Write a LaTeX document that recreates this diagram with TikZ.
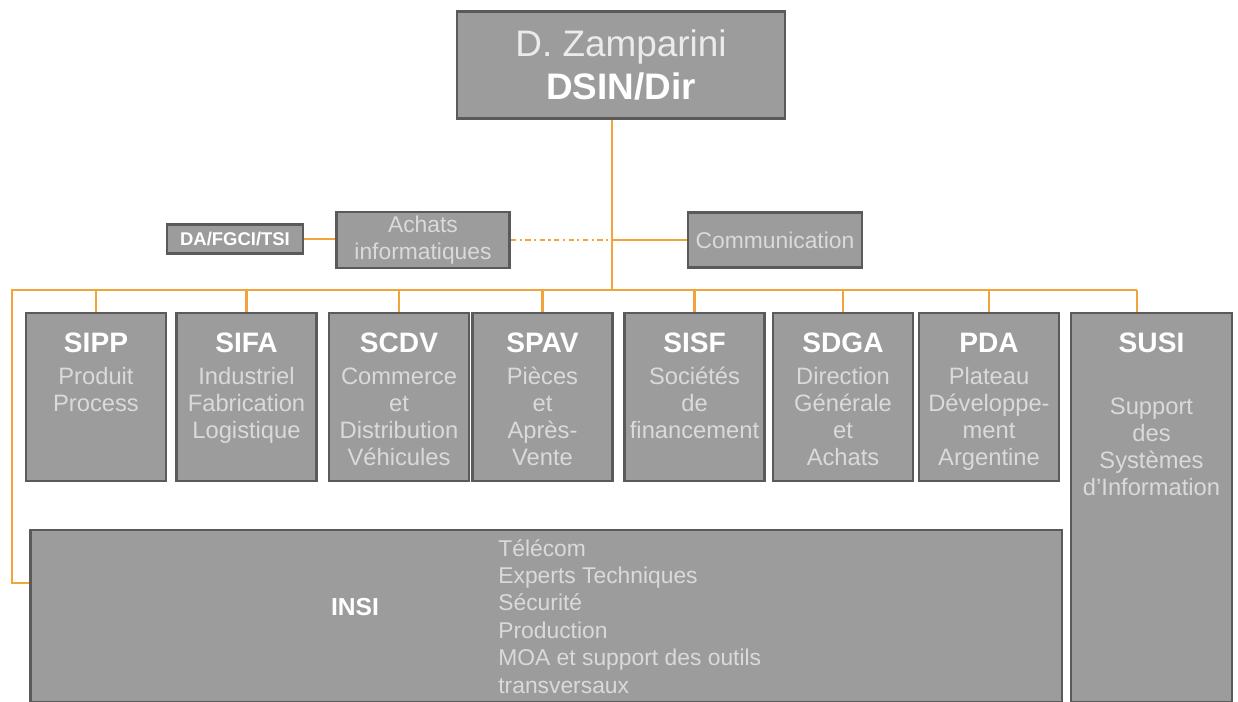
\documentclass[tikz,border=0pt]{standalone}
\usepackage{fontspec}
\setmainfont{Liberation Sans}
\definecolor{boxfill}{HTML}{9C9C9C}
\definecolor{boxline}{HTML}{5A5A5A}
\definecolor{subtxt}{HTML}{DADADA}
\definecolor{orgline}{HTML}{F2A33A}
\tikzset{
  unit/.style={draw=boxline, line width=1.6pt, fill=boxfill, inner sep=0pt},
  child/.style={unit, minimum width=2.8cm, minimum height=3.36cm},
  childtxt/.style={anchor=north, inner sep=0pt, align=center, text=subtxt,
    font=\fontsize{13.5}{15.3}\selectfont},
  link/.style={draw=orgline, line width=1.2pt}
}
\newcommand{\unittitle}[1]{{\color{white}\fontsize{16}{18}\selectfont\bfseries #1}}
\begin{document}
\begin{tikzpicture}[x=0.02cm, y=-0.02cm]
      \useasboundingbox (0,0) rectangle (1238,702);
      \node[unit, minimum width=6.56cm, minimum height=2.14cm, align=center, text=white!92!black,
        font=\fontsize{21}{24}\selectfont] (dir) at (621,65)
        {D. Zamparini\\{\color{white}\bfseries DSIN/Dir}};
      \node[unit, minimum width=2.72cm, minimum height=0.58cm, text=white,
        font=\fontsize{10.5}{12}\selectfont\bfseries] (da) at (235,239) {DA/FGCI/TSI};
      \node[unit, minimum width=3.46cm, minimum height=1.12cm, align=center, text=subtxt,
        font=\fontsize{13}{15}\selectfont] (achats) at (423,240) {Achats\\informatiques};
      \node[unit, minimum width=3.48cm, minimum height=1.10cm, text=subtxt,
        font=\fontsize{13}{15}\selectfont] (comm) at (775,240) {Communication};
      \node[child] (sipp) at (96,397) {};
      \node[child] (sifa) at (246.5,397) {};
      \node[child] (scdv) at (399,397) {};
      \node[child] (spav) at (542.5,397) {};
      \node[child] (sisf) at (694.5,397) {};
      \node[child] (sdga) at (843,397) {};
      \node[child] (pda) at (989,397) {};
      \node[unit, minimum width=3.22cm, minimum height=7.78cm] (susi) at (1151.5,507.5) {};
      \node[unit, minimum width=20.64cm, minimum height=3.44cm] (insi) at (546,616) {};
      \node[childtxt] (sipp-t) at ([yshift=-0.42cm]sipp.north) {\unittitle{SIPP}\\[3pt]Produit\\Process};
      \node[childtxt] (sifa-t) at ([yshift=-0.42cm]sifa.north) {\unittitle{SIFA}\\[3pt]Industriel\\Fabrication\\Logistique};
      \node[childtxt] (scdv-t) at ([yshift=-0.42cm]scdv.north) {\unittitle{SCDV}\\[3pt]Commerce\\et\\Distribution\\Véhicules};
      \node[childtxt] (spav-t) at ([yshift=-0.42cm]spav.north) {\unittitle{SPAV}\\[3pt]Pièces\\et\\Après-\\Vente};
      \node[childtxt] (sisf-t) at ([yshift=-0.42cm]sisf.north) {\unittitle{SISF}\\[3pt]Sociétés\\de\\financement};
      \node[childtxt] (sdga-t) at ([yshift=-0.42cm]sdga.north) {\unittitle{SDGA}\\[3pt]Direction\\Générale\\et\\Achats};
      \node[childtxt] (pda-t) at ([yshift=-0.42cm]pda.north) {\unittitle{PDA}\\[3pt]Plateau\\Développe-\\ment\\Argentine};
      \node[childtxt] (susi-t) at ([yshift=-0.42cm]susi.north) {\unittitle{SUSI}\\[20pt]Support\\des\\Systèmes\\d'Information};
      \node[inner sep=0pt, text=white, font=\fontsize{14}{16}\selectfont\bfseries] (insi-t) at (355,607) {INSI};
      \node[anchor=north west, inner sep=0pt, align=left, text=subtxt,
        font=\fontsize{13}{15.6}\selectfont] (insi-l) at (498,539)
        {Télécom\\Experts Techniques\\Sécurité\\Production\\MOA et support des outils\\transversaux};
      \coordinate (trunk) at (612,290);
      \coordinate (bl) at (12,290);
      \coordinate (br) at (1137,290);
      \coordinate (il) at (12,583);
      \draw[link] (trunk |- dir.south) -- (trunk);
      \draw[link] (da.east) -- (da.east -| achats.west);
      \draw[link, dash dot] (achats.east) -- (achats.east -| trunk);
      \draw[link] (comm.west) -- (comm.west -| trunk);
      \draw[link] (br) -- (bl) -- (il) -- (il -| insi.west);
      \draw[link] (br) -- (br |- susi.north);
      \foreach \u in {sipp,sifa,scdv,spav,sisf,sdga,pda}
        \draw[link] (\u.north) -- (\u.north |- bl);
    \end{tikzpicture}
\end{document}
